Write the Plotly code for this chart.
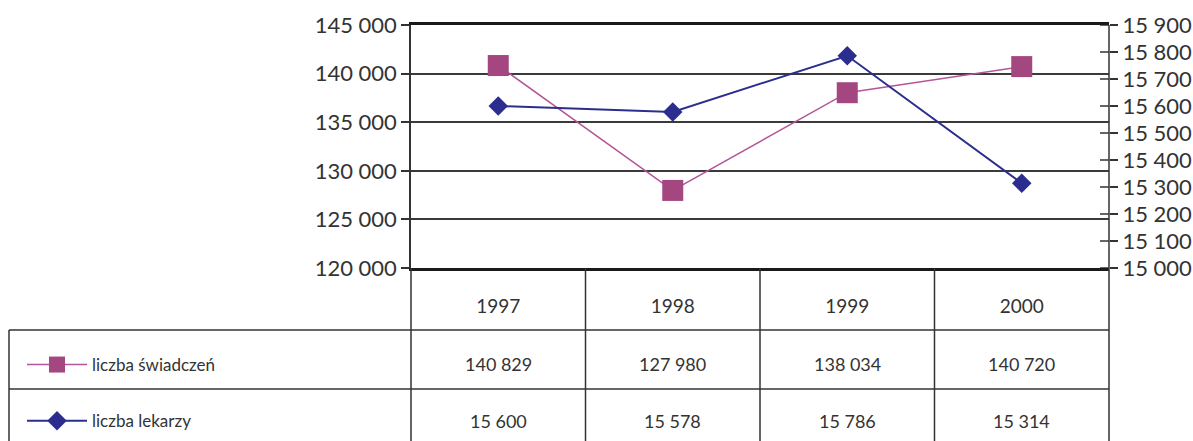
import plotly.graph_objects as go

years = ["1997", "1998", "1999", "2000"]
swiadczenia = [140829, 127980, 138034, 140720]
lekarze = [15600, 15578, 15786, 15314]
name_sw = "liczba świadczeń"
name_lek = "liczba lekarzy"

W, H = 1193, 441
L, R, T, B = 411, 1109, 25, 268

def px_x(p):
    return (p - L) / (R - L)

def px_y(p):
    return (B - p) / (B - T)

def fmt(v):
    return f"{v:,}".replace(",", " ")

FONT = "Lato"
TXT = "#333333"
MAG_M = "#A4467F"
MAG_L = "#B4569A"
BLU = "#2B2E8F"
GRID = "#3a3a3a"

fig = go.Figure()
fig.add_trace(go.Scatter(
    x=years, y=swiadczenia, name=name_sw, mode="lines+markers",
    line=dict(color=MAG_L, width=1.5),
    marker=dict(symbol="square", size=21, color=MAG_M),
    yaxis="y", legendgroup="a",
))
fig.add_trace(go.Scatter(
    x=years, y=lekarze, name=name_lek, mode="lines+markers",
    line=dict(color=BLU, width=2),
    marker=dict(symbol="diamond", size=15, color=BLU),
    yaxis="y2", legendgroup="b",
))

shapes = []
def line(x0, y0, x1, y1, xref="paper", yref="paper", w=1.5, c="#333333"):
    shapes.append(dict(type="line", x0=x0, y0=y0, x1=x1, y1=y1, xref=xref, yref=yref,
                       line=dict(color=c, width=w), layer="above"))

# table grid
line(px_x(9), px_y(330), px_x(R), px_y(330))
line(px_x(9), px_y(389), px_x(R), px_y(389))
line(px_x(9), px_y(330), px_x(9), px_y(445))
line(px_x(L), px_y(B), px_x(L), px_y(445))
line(px_x(R), px_y(T), px_x(R), px_y(445))
for i in range(len(years) - 1):
    shapes.append(dict(type="line", x0=i + 0.5, x1=i + 0.5, xref="x",
                       y0=px_y(B), y1=px_y(445), yref="paper",
                       line=dict(color="#333333", width=1.5)))
# inside half of right ticks
for v in range(15000, 15901, 100):
    shapes.append(dict(type="line", x0=1 - 9 / (R - L), x1=1, xref="paper",
                       y0=v, y1=v, yref="y2", line=dict(color="#333333", width=1.5)))

annotations = []
for i in range(len(years)):
    annotations.append(dict(x=i, xref="x", y=px_y(364), yref="paper", yanchor="middle",
                            text=fmt(swiadczenia[i]),
                            showarrow=False, font=dict(family=FONT, size=18, color=TXT)))
    annotations.append(dict(x=i, xref="x", y=px_y(421), yref="paper", yanchor="middle",
                            text=fmt(lekarze[i]),
                            showarrow=False, font=dict(family=FONT, size=18, color=TXT)))

fig.update_layout(
    width=W, height=H,
    margin=dict(l=L, r=W - R, t=T, b=H - B, pad=0, autoexpand=False),
    paper_bgcolor="white", plot_bgcolor="white",
    separators=", ",
    font=dict(family=FONT, size=20, color=TXT),
    showlegend=True,
    legend=dict(x=px_x(22), y=px_y(347), xanchor="left", yanchor="top",
                traceorder="grouped", tracegroupgap=31,
                font=dict(family=FONT, size=17, color=TXT),
                bgcolor="rgba(0,0,0,0)", itemwidth=60),
    xaxis=dict(type="category", range=[-0.5, 3.5], showgrid=False, automargin=False,
               showline=True, mirror=True, linecolor="#1a1a1a", linewidth=2.5,
               ticks="", ticklabelstandoff=19, tickfont=dict(family=FONT, size=19, color=TXT),
               fixedrange=True),
    yaxis=dict(range=[120000, 145000], dtick=5000, tickformat=",d", automargin=False,
               showgrid=True, gridcolor=GRID, gridwidth=1.5,
               showline=True, linecolor="#333333", linewidth=1.5,
               ticks="outside", ticklen=8, tickcolor="#333333", tickwidth=1.5,
               tickfont=dict(family=FONT, size=22, color=TXT), zeroline=False),
    yaxis2=dict(range=[15000, 15900], dtick=100, tickformat=",d", overlaying="y", side="right",
                showgrid=False, showline=False, automargin=False,
                ticks="outside", ticklen=8, tickcolor="#333333", tickwidth=1.5,
                tickfont=dict(family=FONT, size=22, color=TXT), zeroline=False),
    shapes=shapes, annotations=annotations,
)

fig.write_html("out.html")
